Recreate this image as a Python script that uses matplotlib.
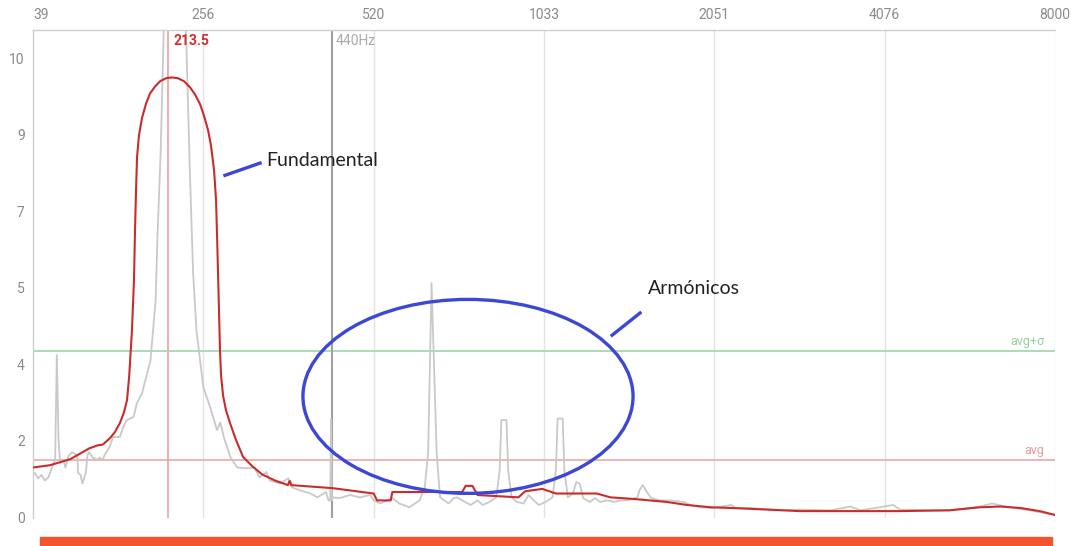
import numpy as np
import matplotlib
matplotlib.use("Agg")
import matplotlib.pyplot as plt
from matplotlib.patches import Ellipse, Rectangle

# x axis: one unit per labelled band, y axis: one unit per labelled level
x_labels = ["39", "256", "520", "1033", "2051", "4076", "8000"]
y_labels = ["0", "2", "4", "5", "7", "9", "10"]

# smoothed envelope (red)
env_x = [0.00, 0.10, 0.22, 0.33, 0.38, 0.41, 0.45, 0.48, 0.51, 0.534, 0.552,
         0.565, 0.581, 0.593, 0.599, 0.605, 0.611, 0.622, 0.640, 0.664, 0.687,
         0.716, 0.746, 0.781, 0.816, 0.851, 0.887, 0.922, 0.951, 0.981, 1.004,
         1.028, 1.045, 1.063, 1.075, 1.083, 1.092, 1.098, 1.104, 1.116, 1.133,
         1.157, 1.192, 1.233, 1.286, 1.345, 1.421, 1.497, 1.505, 1.51, 1.515,
         1.76, 2.00, 2.02, 2.10, 2.11, 2.52, 2.54, 2.58, 2.61, 2.85, 2.89, 2.99,
         3.07, 3.31, 3.39, 3.52, 3.72, 3.84, 3.98, 4.11, 4.31, 4.50, 5.09, 5.38,
         5.56, 5.68, 5.80, 5.91, 6.00]
env_y = [0.65, 0.68, 0.76, 0.90, 0.94, 0.95, 1.03, 1.11, 1.23, 1.37, 1.53,
         1.85, 2.44, 3.10, 3.75, 4.27, 4.71, 4.99, 5.22, 5.41, 5.54,
         5.63, 5.70, 5.74, 5.75, 5.74, 5.70, 5.62, 5.53, 5.40, 5.25,
         5.06, 4.86, 4.54, 4.14, 3.49, 2.71, 2.18, 1.86, 1.59, 1.40,
         1.23, 1.01, 0.79, 0.67, 0.56, 0.48, 0.42, 0.47, 0.47, 0.42,
         0.38, 0.31, 0.22, 0.22, 0.33, 0.33, 0.41, 0.41, 0.29, 0.26, 0.34, 0.37,
         0.31, 0.31, 0.26, 0.24, 0.20, 0.16, 0.13, 0.12, 0.10, 0.08, 0.08, 0.09,
         0.13, 0.14, 0.12, 0.08, 0.03]

# raw spectrum (grey)
spec_x = [0.00, 0.01, 0.03, 0.05, 0.07, 0.09, 0.11, 0.13, 0.14, 0.15, 0.16, 0.18,
          0.19, 0.21, 0.23, 0.26, 0.265, 0.28, 0.29, 0.31, 0.32, 0.33, 0.35, 0.38,
          0.39, 0.41, 0.42, 0.45, 0.47, 0.51, 0.53, 0.55, 0.59, 0.61, 0.64, 0.66,
          0.69, 0.72, 0.73, 0.75, 0.77, 0.80, 0.86, 0.89, 0.90, 0.92, 0.94, 0.96,
          1.00, 1.04, 1.08, 1.10, 1.12, 1.16, 1.20, 1.26, 1.30, 1.33, 1.37, 1.39,
          1.45, 1.50, 1.52, 1.57, 1.63, 1.67, 1.72, 1.735, 1.745, 1.75, 1.755,
          1.76, 1.80, 1.86, 1.92, 1.98, 2.00, 2.04, 2.08, 2.11, 2.15, 2.21, 2.27,
          2.30, 2.32, 2.34, 2.37, 2.39, 2.44, 2.47, 2.49, 2.52, 2.57, 2.61, 2.64,
          2.68, 2.72, 2.74, 2.75, 2.78, 2.79, 2.81, 2.84, 2.88, 2.91, 2.94, 2.97,
          3.01, 3.05, 3.07, 3.08, 3.11, 3.12, 3.14, 3.17, 3.19, 3.21, 3.23, 3.27,
          3.30, 3.33, 3.37, 3.41, 3.45, 3.49, 3.55, 3.56, 3.58, 3.61, 3.63, 3.68,
          3.74, 3.82, 3.86, 3.92, 3.99, 4.10, 4.13, 4.21, 4.39, 4.50, 4.68, 4.80,
          4.86, 5.05, 5.09, 5.38, 5.56, 5.63, 5.71, 5.85, 6.00]
spec_y = [0.55, 0.58, 0.51, 0.55, 0.48, 0.52, 0.64, 0.75, 2.12, 1.01, 0.71, 0.75,
          0.65, 0.81, 0.85, 0.81, 0.58, 0.55, 0.44, 0.58, 0.81, 0.85, 0.78, 0.75,
          0.78, 0.75, 0.81, 0.92, 1.05, 1.05, 1.18, 1.27, 1.31, 1.49, 1.62, 1.79,
          2.05, 2.84, 3.62, 4.80, 6.60, 7.40, 7.40, 6.60, 6.24, 4.60, 3.20, 2.44,
          1.70, 1.44, 1.14, 1.24, 1.05, 0.78, 0.65, 0.64, 0.65, 0.52, 0.59, 0.48,
          0.44, 0.51, 0.39, 0.35, 0.31, 0.26, 0.33, 0.22, 0.22, 1.29, 0.22,
          0.26, 0.25, 0.29, 0.26, 0.29, 0.22, 0.18, 0.22, 0.25, 0.18, 0.13, 0.22,
          0.39, 0.84, 3.06, 0.84, 0.26, 0.18, 0.25, 0.26, 0.22, 0.16, 0.22, 0.16,
          0.20, 0.26, 0.61, 1.27, 1.27, 0.61, 0.26, 0.20, 0.18, 0.29, 0.22, 0.16,
          0.20, 0.26, 0.61, 1.29, 1.29, 0.61, 0.26, 0.31, 0.46, 0.44, 0.25, 0.20,
          0.25, 0.20, 0.22, 0.20, 0.22, 0.22, 0.26, 0.35, 0.42, 0.31, 0.25, 0.22,
          0.22, 0.20, 0.16, 0.13, 0.12, 0.16, 0.12, 0.12, 0.09, 0.10, 0.09, 0.14,
          0.09, 0.16, 0.10, 0.09, 0.14, 0.18, 0.14, 0.09, 0.03]

avg = 0.75
avg_sigma = 2.17
peak_x, peak_label = 0.79, "213.5"
ref_x, ref_label = 1.756, "440Hz"

fig = plt.figure(figsize=(10.71, 5.46), dpi=100)
ax = fig.add_axes([0.0308, 0.0513, 0.9542, 0.8937])

ax.set_xlim(0, 6)
ax.set_ylim(-0.01, 6.37)

for i in range(1, 7):
    ax.axvline(i, color="#e3e3e3", lw=1, zorder=0)

ax.axhline(avg_sigma, color="#a8d8ae", lw=1.3, zorder=1)
ax.axhline(avg, color="#eab0b0", lw=1.3, zorder=1)
ax.text(5.94, avg_sigma + 0.04, "avg+σ", color="#93d29f", ha="right", va="bottom",
        fontsize=9, family="Roboto")
ax.text(5.94, avg + 0.04, "avg", color="#e59a9a", ha="right", va="bottom",
        fontsize=9, family="Roboto")

ax.axvline(peak_x, color="#f2a7a7", lw=1.3, zorder=1)
ax.axvline(ref_x, color="#a0a0a0", lw=1.5, zorder=1)
ax.text(peak_x + 0.035, 6.32, peak_label, color="#d0302f", fontsize=10,
        fontweight="bold", va="top", family="Roboto")
ax.text(ref_x + 0.02, 6.32, ref_label, color="#a9a9a9", fontsize=10,
        va="top", family="Roboto")

ax.plot(spec_x, spec_y, color="#c9c9c9", lw=1.3, zorder=2)
ax.plot(env_x, env_y, color="#cc2b2b", lw=1.5, zorder=3)

# hand-drawn annotations
blue = "#3b47d6"
ax.add_patch(Ellipse((2.554, 1.58), 1.938, 2.536, fill=False, ec=blue, lw=2.4, zorder=4))
ax.plot([1.127, 1.333], [4.47, 4.63], color=blue, lw=2.4, zorder=4)
ax.plot([3.40, 3.564], [2.38, 2.67], color=blue, lw=2.4, zorder=4)
ax.text(1.368, 4.67, "Fundamental", fontsize=14, family="Lato", color="#222222", va="center")
ax.text(3.61, 2.99, "Armónicos", fontsize=14, family="Lato", color="#222222", va="center")

ax.xaxis.tick_top()
ax.set_xticks(range(7))
ax.set_xticklabels(x_labels)
ax.set_yticks(range(7))
ax.set_yticklabels(y_labels)
ax.tick_params(length=0, colors="#8a8a8a", labelsize=10, pad=6)
for lab in ax.get_xticklabels() + ax.get_yticklabels():
    lab.set_family("Roboto")
ax.get_xticklabels()[0].set_ha("left")
ax.get_xticklabels()[0].set_x(0.03)

for side in ["right", "bottom"]:
    ax.spines[side].set_visible(False)
for side in ["top", "left"]:
    ax.spines[side].set_color("#cfcfcf")
    ax.spines[side].set_linewidth(1)

fig.patches.append(Rectangle((0.0373, 0.0), 0.945, 0.0165, transform=fig.transFigure,
                             color="#f3562f", zorder=0))

fig.savefig("out.png", dpi=100)
